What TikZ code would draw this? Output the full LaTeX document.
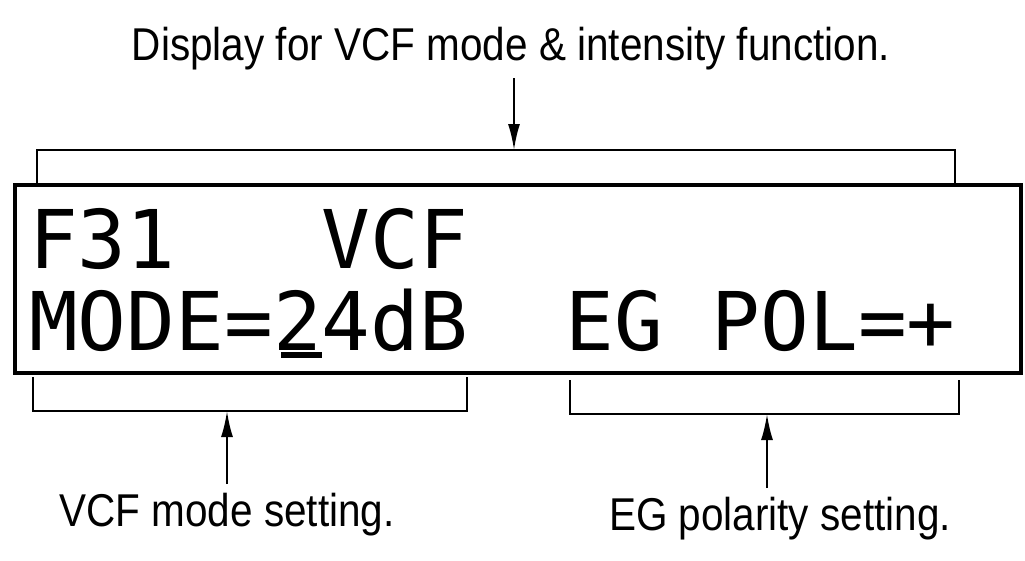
\documentclass[tikz,border=0pt]{standalone}
\usepackage{fontspec}
\usetikzlibrary{arrows.meta}
\newfontfamily\labfont[FakeStretch=0.88]{Liberation Sans}
\newfontfamily\lcdfont{DejaVu Sans Mono}
\begin{document}
\begin{tikzpicture}[x=1pt,y=-1pt,
  lab/.style={inner sep=0pt,anchor=base,font=\labfont\fontsize{46}{50}\selectfont},
  lcd/.style={inner sep=0pt,anchor=base west,font=\lcdfont\fontsize{81}{81}\selectfont},
  bracket/.style={line width=2.5pt,line join=miter},
  pointer/.style={line width=2pt,-{Latex[length=26pt,width=12pt]}}]
\useasboundingbox (0,0) rectangle (1025,560);
% display frame
\draw[line width=4pt] (15,185) rectangle (1021,373);
% display text
\node[lcd] (l1) at (29,268) {F31\ \ \ VCF};
\node[lcd] (l2) at (29,350) {MODE=24dB\ \ EG\ POL=+};
\fill (281,352) rectangle (322,358);
% labels
\node[lab] (top) at (511,60) {Display for VCF mode \& intensity function.};
\node[lab] (vcf) at (227,526) {VCF mode setting.};
\node[lab] (eg) at (780,530) {EG polarity setting.};
% brackets
\coordinate (tb) at (514,150);
\coordinate (ta) at (514,78);
\draw[bracket] (37,185) -- (37,150) -- (955,150) -- (955,185);
\coordinate (lb) at (227,411);
\coordinate (la) at (227,484);
\draw[bracket] (33,377) -- (33,411) -- (467,411) -- (467,377);
\coordinate (rb) at (767,414);
\coordinate (ra) at (767,488);
\draw[bracket] (570,380) -- (570,414) -- (959,414) -- (959,380);
% pointers
\draw[pointer] (ta) -- (tb);
\draw[pointer] (la) -- (lb);
\draw[pointer] (ra) -- (rb);
\end{tikzpicture}
\end{document}
